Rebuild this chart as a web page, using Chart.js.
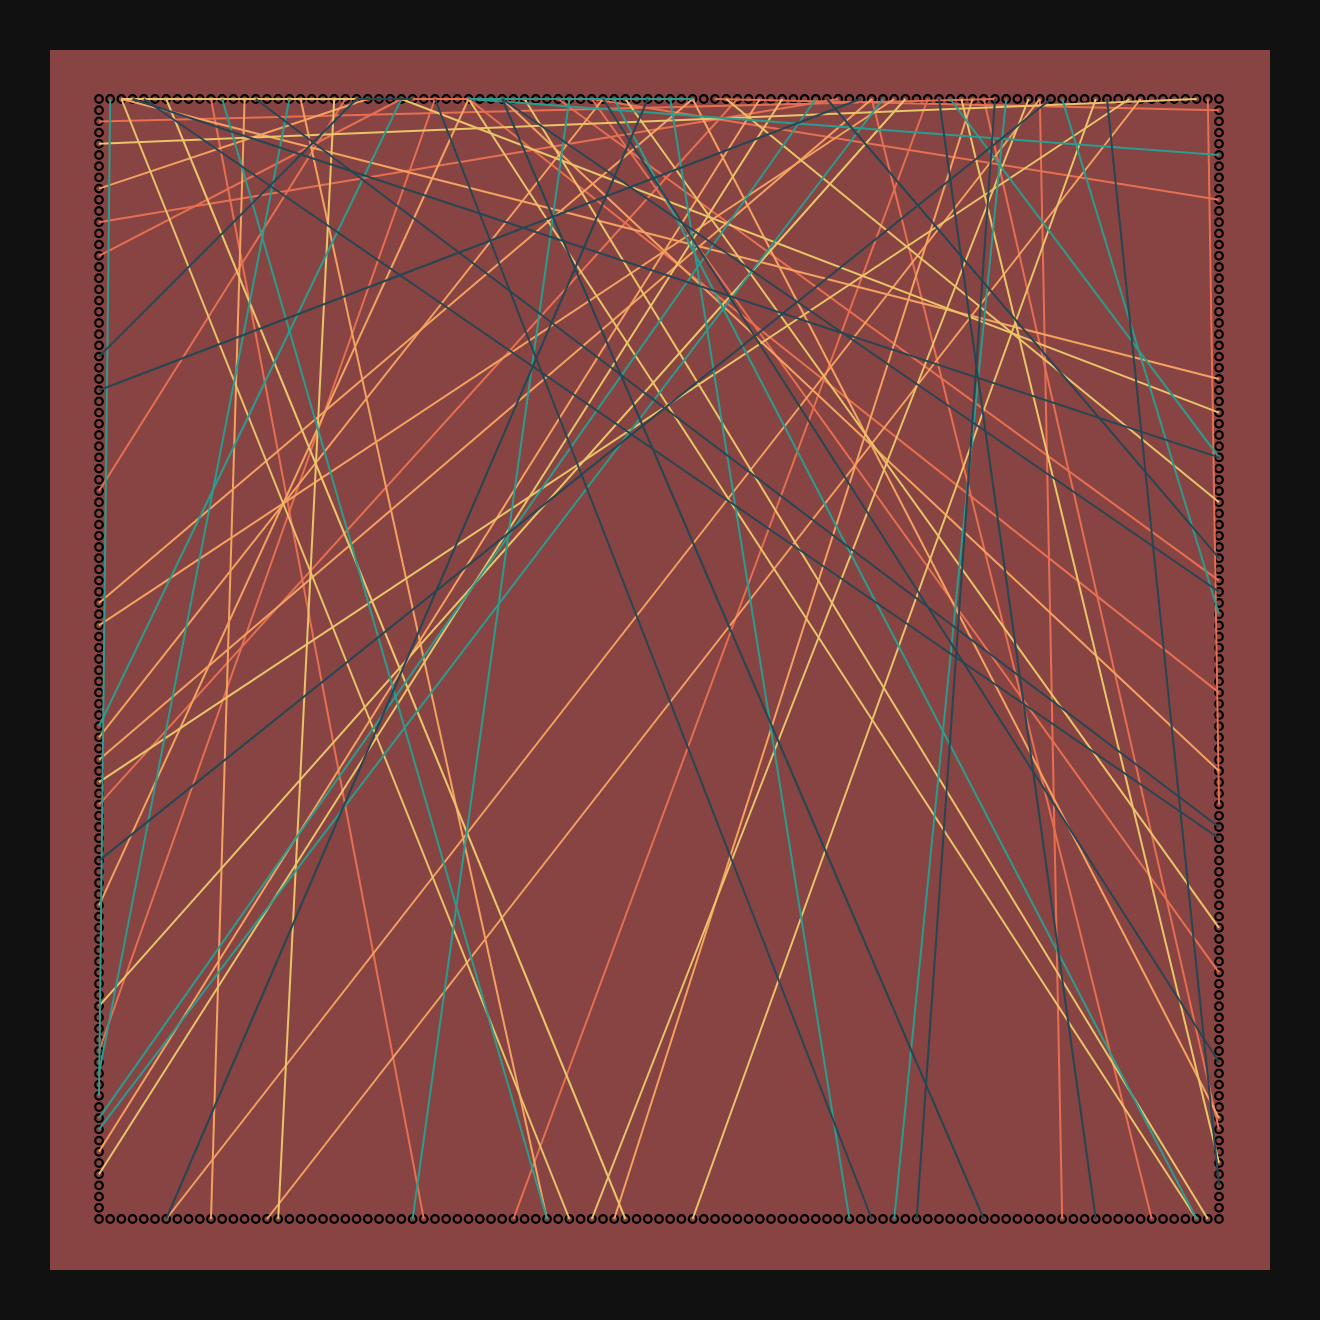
<!DOCTYPE html>
<html>
<head>
<meta charset="utf-8">
<script src="https://cdn.jsdelivr.net/npm/chart.js@4.4.0/dist/chart.umd.min.js"></script>
<style>
  html, body { margin: 0; padding: 0; background: #111111; }
  #wrap { width: 1320px; height: 1320px; }
</style>
</head>
<body>
<div id="wrap"><canvas id="c" width="1320" height="1320"></canvas></div>
<script>
// Grid: 101 positions per side (0..100), y measured from the top.
const gridSteps = 100;

// Lines as [x1, y1, x2, y2] in grid units, grouped by colour.
const darkLines = [
  [0,23, 23,0], [0,26, 68,0], [0,68, 85,0], [6,100, 49,0], [69,100, 30,0],
  [73,100, 80,0], [79,100, 36,0], [89,100, 75,0], [100,32, 3,0], [100,41, 65,0],
  [100,44, 36,0], [100,65, 14,0], [100,66, 4,0], [100,86, 45,0], [100,97, 90,0],
  [23,0, 28,0]
];
const tealLines = [
  [0,56, 27,0], [0,87, 17,0], [0,89, 1,0], [0,91, 64,0], [0,92, 70,0],
  [28,100, 42,0], [40,100, 11,0], [67,100, 51,0], [71,100, 81,0], [98,100, 46,0],
  [100,5, 33,0], [100,32, 76,0], [100,46, 86,0], [33,0, 53,0]
];
const yellowLines = [
  [0,4, 98,0], [0,61, 92,0], [0,81, 72,0], [0,96, 61,0], [16,100, 21,0],
  [42,100, 2,0], [44,100, 83,0], [47,100, 6,0], [53,100, 89,0], [98,100, 33,0],
  [99,100, 38,0], [100,28, 27,0], [100,36, 56,0], [100,74, 47,0], [100,95, 77,0],
  [2,0, 23,0]
];
const orangeLines = [
  [0,8, 24,0], [0,45, 53,0], [0,47, 71,0], [0,57, 45,0], [0,59, 69,0],
  [0,72, 33,0], [0,94, 59,0], [6,100, 84,0], [10,100, 13,0], [15,100, 93,0],
  [40,100, 18,0], [46,100, 78,0], [100,25, 2,0], [100,60, 36,0], [100,91, 53,0]
];
const redLines = [
  [0,2, 80,0], [0,11, 66,0], [0,14, 27,0], [0,35, 22,0], [0,63, 57,0],
  [0,85, 30,0], [29,100, 10,0], [37,100, 74,0], [86,100, 84,0], [94,100, 69,0],
  [100,1, 55,0], [100,9, 44,0], [100,43, 41,0], [100,53, 33,0], [100,63, 99,0],
  [100,78, 44,0], [100,92, 79,0], [28,0, 33,0]
];

const palette = {
  dark: '#264653', teal: '#2a9d8f', yellow: '#e9c46a', orange: '#f4a261', red: '#e76f51'
};

// perimeter circles
const perimeter = [];
for (let i = 0; i <= gridSteps; i++) {
  perimeter.push({x: i, y: 0});
  perimeter.push({x: i, y: gridSteps});
  if (i > 0 && i < gridSteps) {
    perimeter.push({x: 0, y: i});
    perimeter.push({x: gridSteps, y: i});
  }
}

const datasets = [];
function addLines(list, color) {
  list.forEach(l => {
    datasets.push({
      type: 'scatter',
      data: [{x: l[0], y: l[1]}, {x: l[2], y: l[3]}],
      showLine: true,
      borderColor: color,
      backgroundColor: color,
      borderWidth: 2,
      pointRadius: 0,
      clip: false,
      order: 0
    });
  });
}
addLines(darkLines, palette.dark);
addLines(tealLines, palette.teal);
addLines(yellowLines, palette.yellow);
addLines(orangeLines, palette.orange);
addLines(redLines, palette.red);

datasets.push({
  type: 'scatter',
  data: perimeter,
  showLine: false,
  pointRadius: 3.8,
  pointBorderWidth: 2.2,
  pointBorderColor: '#000000',
  pointBackgroundColor: 'rgba(0,0,0,0)',
  clip: false,
  order: 1000
});

const panelPlugin = {
  id: 'panel',
  beforeDraw(chart) {
    const ctx = chart.ctx;
    ctx.save();
    ctx.fillStyle = '#111111';
    ctx.fillRect(0, 0, chart.width, chart.height);
    ctx.fillStyle = '#874442';
    ctx.fillRect(50, 50, 1220, 1220);
    ctx.restore();
  }
};

new Chart(document.getElementById('c'), {
  type: 'scatter',
  data: { datasets },
  options: {
    responsive: false,
    animation: false,
    devicePixelRatio: 1,
    layout: { padding: { left: 99, top: 99, right: 101, bottom: 101 } },
    plugins: { legend: { display: false }, tooltip: { enabled: false } },
    scales: {
      x: { type: 'linear', min: 0, max: gridSteps, display: false },
      y: { type: 'linear', min: 0, max: gridSteps, reverse: true, display: false }
    }
  },
  plugins: [panelPlugin]
});
</script>
</body>
</html>
